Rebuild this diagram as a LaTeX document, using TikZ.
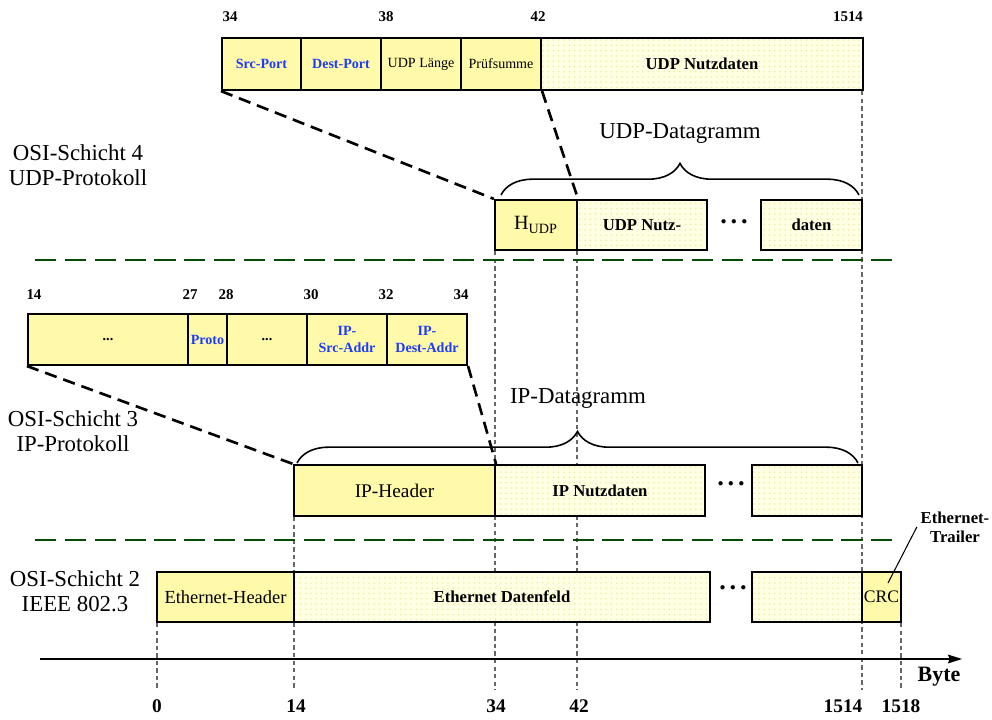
\documentclass[tikz,border=0pt]{standalone}
\usepackage{fontspec}
\setmainfont{Liberation Serif}
\usetikzlibrary{patterns, arrows.meta, decorations.pathreplacing}

\definecolor{hdryellow}{RGB}{255,250,170}
\definecolor{datyellow}{RGB}{255,255,228}
\definecolor{datdots}{RGB}{240,234,160}
\definecolor{fieldblue}{RGB}{30,60,250}
\definecolor{layergreen}{RGB}{5,75,5}

% one field of a frame: name, left, right, top, bottom (px), style, text
\newcommand{\field}[7]{%
  \node[#6, minimum width={(#3-#2)*0.02cm}, minimum height={(#5-#4)*0.02cm}]
    (#1) at ({(#2+#3)/2},{(#4+#5)/2}) {#7};}
\newcommand{\gapdots}{.\kern2.2pt.\kern2.2pt.}

\tikzset{
  frame/.style={draw, line width=1.2pt, inner sep=0pt},
  hdr/.style={frame, fill=hdryellow},
  dat/.style={frame, preaction={fill=datyellow}, pattern=dots, pattern color=datdots},
  layer/.style={font=\fontsize{13}{14.5}\selectfont, align=center},
  numtop/.style={font=\bfseries\fontsize{8.5}{10}\selectfont},
  numbot/.style={font=\bfseries\fontsize{11}{13}\selectfont},
  fldsmall/.style={font=\fontsize{8}{9.5}\selectfont, align=center},
  fldblue/.style={font=\bfseries\fontsize{8}{9.5}\selectfont, text=fieldblue, align=center},
  datfont/.style={font=\bfseries\fontsize{9.5}{11}\selectfont},
  bigdots/.style={font=\bfseries\fontsize{15}{16}\selectfont, inner sep=0pt},
  sepline/.style={layergreen, line width=1.7pt, dash pattern=on 12pt off 5pt},
  zoomline/.style={line width=1.5pt, dash pattern=on 7pt off 4pt},
  guide/.style={gray!80!black, line width=0.6pt, dash pattern=on 2.5pt off 1.8pt},
  bracedeco/.style={line width=0.9pt, decorate, decoration={brace, amplitude=18pt}},
}

\begin{document}
\begin{tikzpicture}[x=0.02cm, y=-0.02cm]
  \useasboundingbox (0,0) rectangle (992,720);

  % guide lines down to the byte axis
  \foreach \x/\top in {157/623, 294/517, 495/251, 577/251, 862/91, 901/623}{%
    \draw[guide] (\x,\top) -- (\x,690);
  }

  % OSI layers
  \node[layer] (layer4) at (78,165) {OSI-Schicht 4\\UDP-Protokoll};
  \node[layer] (layer3) at (73,431) {OSI-Schicht 3\\IP-Protokoll};
  \node[layer] (layer2) at (75,591) {OSI-Schicht 2\\IEEE 802.3};
  \coordinate (sepfourL) at (35,260);  \coordinate (sepfourR) at (892,260);
  \coordinate (septhreeL) at (35,540); \coordinate (septhreeR) at (892,540);
  \draw[sepline] (sepfourL) -- (sepfourR);
  \draw[sepline] (septhreeL) -- (septhreeR);

  % UDP header in detail
  \field{srcport}{222}{301}{38}{90}{hdr, fldblue}{Src-Port}
  \field{destport}{301}{381}{38}{90}{hdr, fldblue}{Dest-Port}
  \field{udplen}{381}{461}{38}{90}{hdr, fldsmall}{UDP Länge}
  \field{udpsum}{461}{541}{38}{90}{hdr, fldsmall}{Prüfsumme}
  \field{udppay}{541}{863}{38}{90}{dat, datfont}{UDP Nutzdaten}
  \foreach \x/\n in {230/34, 386/38, 538/42, 848/1514}{%
    \node[numtop] (udpnum\n) at (\x,17) {\n};
  }

  % UDP datagram
  \field{hudp}{495}{577}{200}{250}{hdr, font=\fontsize{11.5}{13}\selectfont}{H\textsubscript{UDP}}
  \field{udpnutz}{577}{707}{200}{250}{dat, datfont}{UDP Nutz-}
  \node[bigdots] (udpdots) at (734,222) {\gapdots};
  \field{udpdaten}{761}{862}{200}{250}{dat, datfont}{daten}
  \coordinate (udpbraceL) at (501,195);
  \coordinate (udpbraceR) at (859,195);
  \draw[bracedeco] (udpbraceL) -- (udpbraceR);
  \node[layer] (udpdgram) at (680,133) {UDP-Datagramm};

  % IP header in detail
  \field{ipfirst}{28}{188}{314}{365}{hdr, fldblue, text=black}{...}
  \field{ipproto}{188}{227}{314}{365}{hdr, fldblue}{Proto}
  \field{ipmid}{227}{307}{314}{365}{hdr, fldblue, text=black}{...}
  \field{ipsrc}{307}{387}{314}{365}{hdr, fldblue}{IP-\\Src-Addr}
  \field{ipdest}{387}{467}{314}{365}{hdr, fldblue}{IP-\\Dest-Addr}
  \foreach \x/\n in {34/14, 190/27, 226/28, 311/30, 386/32, 461/34}{%
    \node[numtop] (ipnum\n) at (\x,295) {\n};
  }

  % IP datagram
  \field{iphdr}{294}{495}{465}{516}{hdr, font=\fontsize{11}{13}\selectfont}{IP-Header}
  \field{ipnutz}{495}{705}{465}{516}{dat, datfont}{IP Nutzdaten}
  \node[bigdots] (ipdots) at (731,484) {\gapdots};
  \field{iprest}{752}{862}{465}{516}{dat}{}
  \coordinate (ipbraceL) at (297,463);
  \coordinate (ipbraceR) at (858,463);
  \draw[bracedeco] (ipbraceL) -- (ipbraceR);
  \node[layer] (ipdgram) at (578,398) {IP-Datagramm};

  % Ethernet frame
  \field{ethhdr}{157}{294}{572}{622}{hdr, font=\fontsize{10.5}{12}\selectfont}{Ethernet-Header}
  \field{ethdat}{294}{710}{572}{622}{dat, datfont}{Ethernet Datenfeld}
  \node[bigdots] (ethdots) at (733,588) {\gapdots};
  \field{ethrest}{752}{862}{572}{622}{dat}{}
  \field{crc}{862}{901}{572}{622}{hdr, font=\fontsize{10}{12}\selectfont}{CRC}
  \node[datfont, align=center, inner sep=2pt] (trailer) at (955,527) {Ethernet-\\Trailer};
  \coordinate (crcpt) at (888,583);
  \draw[line width=0.6pt] (crcpt) -- (trailer.west);

  % zoom lines
  \draw[zoomline] (srcport.south west) -- (hudp.north west);
  \draw[zoomline] (udpsum.south east) -- (hudp.north east);
  \draw[zoomline] (ipfirst.south west) -- (iphdr.north west);
  \draw[zoomline] (ipdest.south east) -- (iphdr.north east);

  % byte axis
  \coordinate (axstart) at (40,659);
  \coordinate (axend) at (962,659);
  \draw[line width=0.8pt, -{Stealth[length=8pt, width=5pt, inset=1pt]}] (axstart) -- (axend);
  \node[numbot, font=\bfseries\fontsize{12.5}{14}\selectfont] (byte) at (939,677) {Byte};
  \foreach \x/\n in {157/0, 296/14, 496/34, 579/42, 843/1514, 901/1518}{%
    \node[numbot] (axnum\n) at (\x,706) {\n};
  }
\end{tikzpicture}
\end{document}
